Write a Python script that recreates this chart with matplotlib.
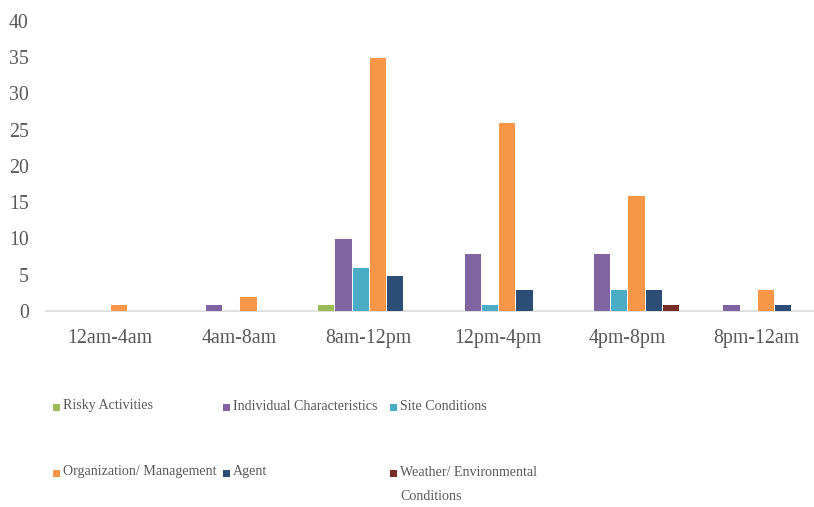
import textwrap
import numpy as np
import matplotlib
matplotlib.use("Agg")
import matplotlib.pyplot as plt
from matplotlib.patches import Rectangle

# Incident counts by time of day for each contributing-factor category
time_slots = ["12am-4am", "4am-8am", "8am-12pm", "12pm-4pm", "4pm-8pm", "8pm-12am"]
risky_activities = [0, 0, 1, 0, 0, 0]
individual_characteristics = [0, 1, 10, 8, 8, 1]
site_conditions = [0, 0, 6, 1, 3, 0]
organization_management = [1, 2, 35, 26, 16, 3]
agent = [0, 0, 5, 3, 3, 1]
weather_environmental = [0, 0, 0, 0, 1, 0]

series_names = ["Risky Activities", "Individual Characteristics", "Site Conditions",
                "Organization/ Management", "Agent", "Weather/ Environmental Conditions"]
series_values = [risky_activities, individual_characteristics, site_conditions,
                 organization_management, agent, weather_environmental]
colors = ["#9BBB59", "#8064A2", "#4BACC6", "#F79646", "#2C4D75", "#772C2A"]
yticks = list(range(0, 45, 5))

plt.rcParams["font.family"] = ["Liberation Serif", "DejaVu Serif"]
TEXT = "#595959"

W, H = 814, 507
fig = plt.figure(figsize=(W / 100, H / 100), dpi=100)
ax = fig.add_axes([45.5 / W, 1 - 311 / H, 776 / W, (311 - 20.7) / H])

x = np.arange(len(time_slots))
bw = 0.134
n = len(series_values)
for i, (vals, col) in enumerate(zip(series_values, colors)):
    offs = (i - (n - 1) / 2) * bw
    ax.bar(x + offs, vals, width=bw, color=col, edgecolor="white", linewidth=0.7, zorder=3)

ax.set_xlim(-0.5, len(time_slots) - 0.5)
ax.set_ylim(0, 40)
ax.set_yticks(yticks)
ax.set_xticks(x)
ax.set_xticklabels(time_slots)
ax.tick_params(axis="both", length=0, labelsize=14.3, labelcolor=TEXT)
ax.tick_params(axis="x", pad=13)
ax.tick_params(axis="y", pad=12)
for side in ("left", "right", "top"):
    ax.spines[side].set_visible(False)
ax.spines["bottom"].set_color("#D9D9D9")
ax.spines["bottom"].set_linewidth(1.2)

# Legend laid out in three columns below the plot
col_x = [52.7, 222.7, 390.0]
row_y = [406, 472]
sq = 7
for k, (name, col) in enumerate(zip(series_names, colors)):
    cx = col_x[k % 3]
    cy = row_y[k // 3]
    fig.add_artist(Rectangle((cx / W, 1 - (cy + 1.5 + sq / 2) / H), sq / W, sq / H,
                             transform=fig.transFigure, facecolor=col, edgecolor="none"))
    for j, line in enumerate(textwrap.wrap(name, 26)):
        fig.text((cx + sq + 3) / W, 1 - (cy + 25 * j) / H, line, fontsize=10.1,
                 color=TEXT, ha="left", va="center")

fig.savefig("out.png", dpi=100)
